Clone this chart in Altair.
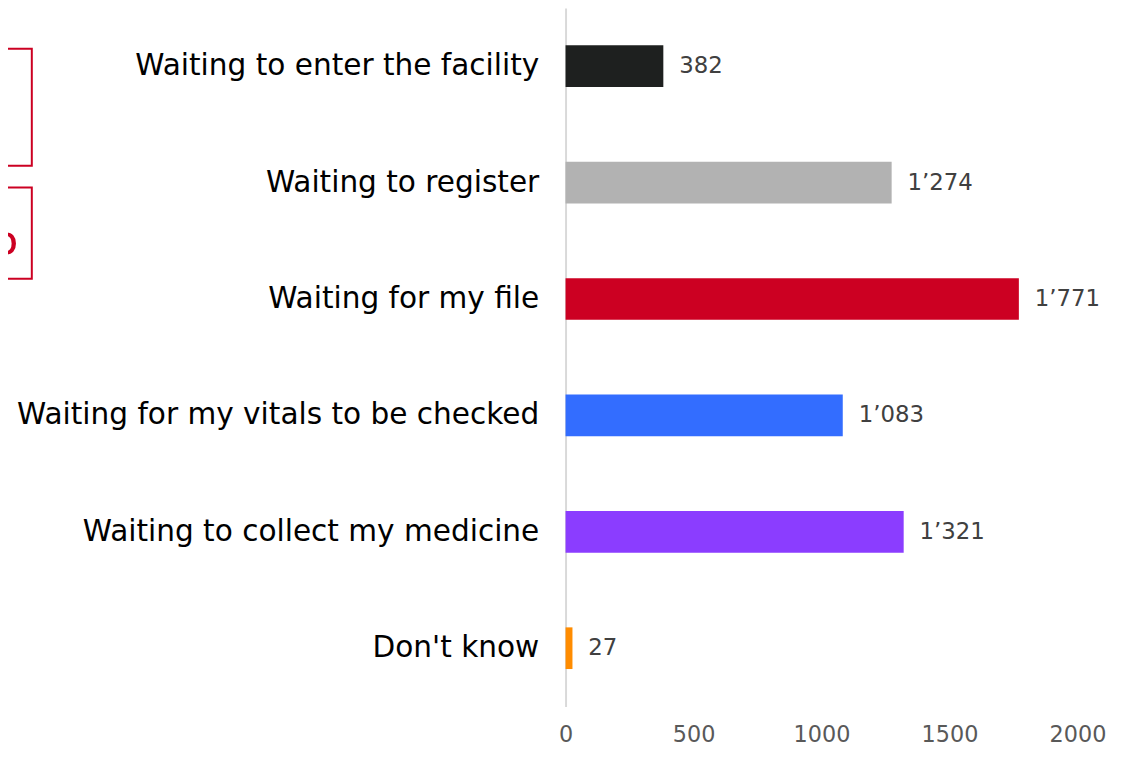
import altair as alt
import pandas as pd

categories = [
    "Waiting to enter the facility",
    "Waiting to register",
    "Waiting for my file",
    "Waiting for my vitals to be checked",
    "Waiting to collect my medicine",
    "Don't know",
]
values = [382, 1274, 1771, 1083, 1321, 27]
colors = ["#1E201F", "#B2B2B2", "#CC0022", "#336DFF", "#8B3DFF", "#FF8C00"]
x_ticks = [0, 500, 1000, 1500, 2000]


def fmt(v):
    return f"{v:,}".replace(",", "\u2019")


df = pd.DataFrame({
    "category": categories,
    "value": values,
    "label": [fmt(v) for v in values],
})

y_scale = alt.Scale(paddingInner=0, paddingOuter=0, range=[-3, 701])

y_enc = alt.Y(
    "category:N",
    sort=categories,
    title=None,
    scale=y_scale,
    axis=alt.Axis(
        labelFont="DejaVu Sans", labelFontSize=29.8, labelColor="#000000",
        labelPadding=27, ticks=False, domainColor="#D9D9D9", domainWidth=2,
        labelLimit=800,
    ),
)
x_enc = alt.X(
    "value:Q",
    title=None,
    scale=alt.Scale(domain=[0, 2000], nice=False),
    axis=alt.Axis(
        values=x_ticks, grid=False, ticks=False, domain=False,
        labelFont="DejaVu Sans", labelFontSize=22.5, labelColor="#595959",
        labelPadding=18, format="d", labelFlush=False,
    ),
)

bars = alt.Chart(df).mark_bar(size=42).encode(
    y=y_enc,
    x=x_enc,
    color=alt.Color("category:N", scale=alt.Scale(domain=categories, range=colors), legend=None),
)

texts = alt.Chart(df).mark_text(
    align="left", baseline="middle", dx=16, font="DejaVu Sans", fontSize=23, color="#404040"
).encode(
    y=alt.Y("category:N", sort=categories),
    x=alt.X("value:Q"),
    text="label:N",
)

deco = alt.Data(values=[{"k": 1}])
box1 = alt.Chart(deco).mark_rect(fillOpacity=0, stroke="#CC0022", strokeWidth=2).encode(
    x=alt.value(-640), x2=alt.value(-538), y=alt.value(38), y2=alt.value(156)
)
box2 = alt.Chart(deco).mark_rect(fillOpacity=0, stroke="#CC0022", strokeWidth=2).encode(
    x=alt.value(-640), x2=alt.value(-538), y=alt.value(178), y2=alt.value(270)
)
pct = alt.Chart(deco).mark_text(
    text="%", align="right", baseline="alphabetic", font="DejaVu Sans",
    fontSize=56, color="#CC0022"
).encode(x=alt.value(-551), y=alt.value(244))

chart = alt.layer(bars, texts, box1, box2, pct).properties(
    width=516, height=700,
    autosize=alt.AutoSizeParams(type="none"),
    padding={"left": 562, "top": 0, "right": 60, "bottom": 45},
).configure_view(stroke=None)

chart.save("out.html", embed_options={"renderer": "svg", "actions": False})
